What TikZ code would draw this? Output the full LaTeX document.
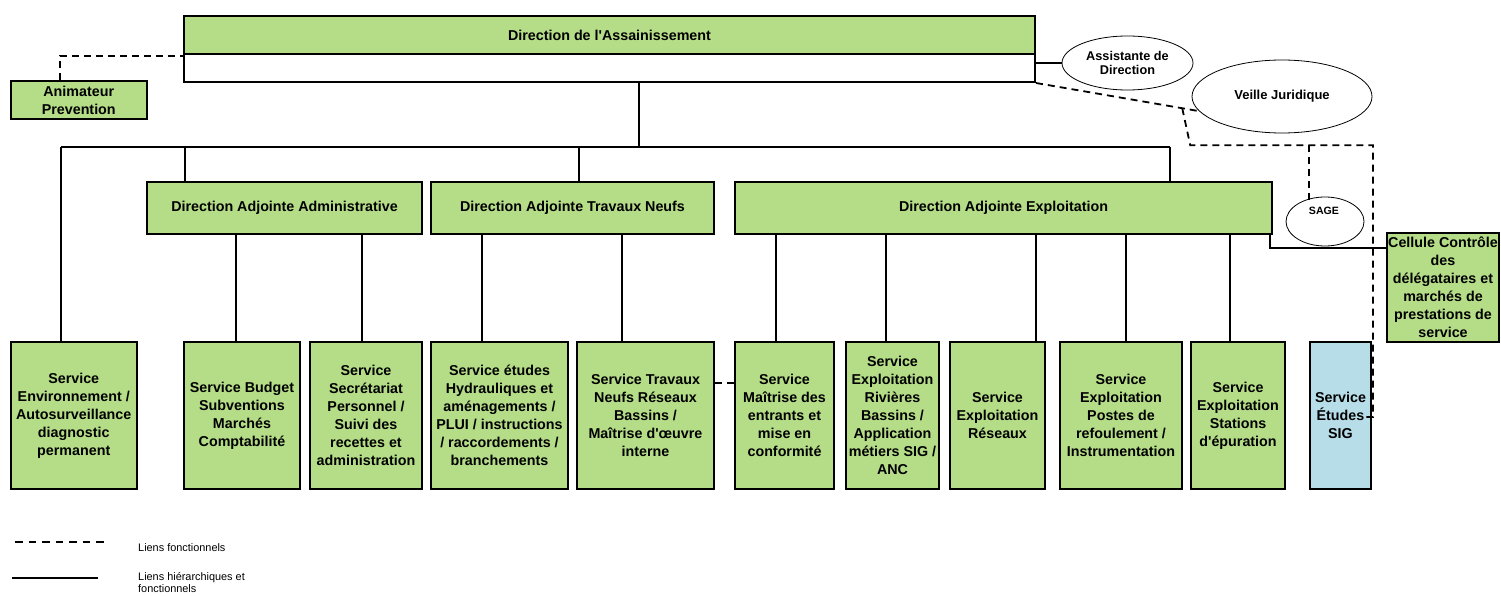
\documentclass[tikz,border=0pt]{standalone}
\usepackage{fontspec}
\setmainfont{Liberation Sans}
\usepackage{tikz}
\usetikzlibrary{shapes.geometric}
\definecolor{vert}{RGB}{181,221,135}
\definecolor{bleu}{RGB}{183,222,232}

\begin{document}
\begin{tikzpicture}[x=1pt,y=-1pt]
	\tikzstyle{unit} = [draw,line width=2pt,fill=vert,align=center,inner sep=0,font=\fontsize{14.3}{18}\selectfont\bfseries];
	\tikzstyle{service} = [unit,minimum height=147];
	\tikzstyle{adjointe} = [unit,minimum height=52];
	\tikzstyle{bulle} = [draw,ellipse,line width=0.8pt,inner sep=0,align=center,font=\fontsize{12.7}{14.5}\selectfont\bfseries];
	\tikzstyle{hier} = [line width=1.3pt];
	\tikzstyle{func} = [line width=1.8pt,dash pattern=on 7pt off 5pt];
	\tikzstyle{legende} = [inner sep=0,align=left,font=\fontsize{10.9}{12.5}\selectfont];
	\useasboundingbox (0,0) rectangle (1501,596);
	\node at (609.5,35) (dir) [unit,minimum width=851,minimum height=38] {Direction de l\textquotesingle Assainissement};
	\node at (609.5,68) (dir_bas) [unit,fill=white,minimum width=851,minimum height=28] {};
	\node at (78.75,100) (anim) [unit,minimum width=136.5,minimum height=38] {Animateur\\Prevention};
	\node at (1127.5,63) (assist) [bulle,minimum width=131,minimum height=54] {Assistante de\\Direction};
	\node at (1282,96.5) (veille) [bulle,minimum width=180,minimum height=73,font=\fontsize{13}{15}\selectfont\bfseries] {Veille Juridique};
	\node at (1325,221.5) (sage) [bulle,minimum width=78,minimum height=49] {};
	\node at (1324,211) (sage_txt) [inner sep=0,font=\fontsize{10.6}{12}\selectfont\bfseries] {SAGE};
	\node at (284.5,208) (daa) [adjointe,minimum width=275] {Direction Adjointe Administrative};
	\node at (572.5,208) (dat) [adjointe,minimum width=283] {Direction Adjointe Travaux Neufs};
	\node at (1003.5,208) (dae) [adjointe,minimum width=537] {Direction Adjointe Exploitation};
	\node at (1443,287.5) (cellule) [unit,minimum width=112,minimum height=109] {Cellule Contrôle\\des\\délégataires et\\marchés de\\prestations de\\service};
	\node at (73.75,415.5) (env) [service,minimum width=126.5] {Service\\Environnement /\\Autosurveillance\\diagnostic\\permanent};
	\node at (242,415.5) (budget) [service,minimum width=116] {Service Budget\\Subventions\\Marchés\\Comptabilité};
	\node at (366,415.5) (secretariat) [service,minimum width=112] {Service\\Secrétariat\\Personnel /\\Suivi des\\recettes et\\administration};
	\node at (499.5,415.5) (etudes) [service,minimum width=137] {Service études\\Hydrauliques et\\aménagements /\\PLUI / instructions\\/ raccordements /\\branchements};
	\node at (645.5,415.5) (travaux) [service,minimum width=137] {Service Travaux\\Neufs Réseaux\\Bassins /\\Maîtrise d\textquotesingle œuvre\\interne};
	\node at (784.5,415.5) (maitrise) [service,minimum width=99] {Service\\Maîtrise des\\entrants et\\mise en\\conformité};
	\node at (892.5,415.5) (rivieres) [service,minimum width=93] {Service\\Exploitation\\Rivières\\Bassins /\\Application\\métiers SIG /\\ANC};
	\node at (997.5,415.5) (reseaux) [service,minimum width=95] {Service\\Exploitation\\Réseaux};
	\node at (1121,415.5) (postes) [service,minimum width=122] {Service\\Exploitation\\Postes de\\refoulement /\\Instrumentation};
	\node at (1238,415.5) (stations) [service,minimum width=94] {Service\\Exploitation\\Stations\\d\textquotesingle épuration};
	\node at (1340.5,415.5) (sig) [service,fill=bleu,minimum width=61] {Service\\Études\\SIG};
	\path (dir_bas.south) ++(29.5,0) coordinate (dir_out);
	\path (dir_out) ++(0,64) coordinate (bus);
	\path (env.north) ++(-12.75,0) coordinate (env_in);
	\path (daa.north) ++(-99.5,0) coordinate (daa_in);
	\path (dat.north) ++(6.5,0) coordinate (dat_in);
	\path (dae.north) ++(166.5,0) coordinate (dae_in);
	\draw[hier] (dir_out) -- (bus);
	\draw[hier] (env_in |- bus) -- (dae_in |- bus);
	\draw[hier] (env_in |- bus) -- (env_in);
	\draw[hier] (daa_in |- bus) -- (daa_in);
	\draw[hier] (dat_in |- bus) -- (dat_in);
	\draw[hier] (dae_in |- bus) -- (dae_in);
	\path (budget.north) ++(-6,0) coordinate (budget_in);
	\path (secretariat.north) ++(-4,0) coordinate (secretariat_in);
	\path (etudes.north) ++(-17.5,0) coordinate (etudes_in);
	\path (travaux.north) ++(-23.5,0) coordinate (travaux_in);
	\path (maitrise.north) ++(-8.5,0) coordinate (maitrise_in);
	\path (rivieres.north) ++(-6.5,0) coordinate (rivieres_in);
	\path (reseaux.north) ++(38.5,0) coordinate (reseaux_in);
	\path (postes.north) ++(5,0) coordinate (postes_in);
	\path (stations.north) ++(-8,0) coordinate (stations_in);
	\draw[hier] (daa.south -| budget_in) -- (budget_in);
	\draw[hier] (daa.south -| secretariat_in) -- (secretariat_in);
	\draw[hier] (dat.south -| etudes_in) -- (etudes_in);
	\draw[hier] (dat.south -| travaux_in) -- (travaux_in);
	\draw[hier] (dae.south -| maitrise_in) -- (maitrise_in);
	\draw[hier] (dae.south -| rivieres_in) -- (rivieres_in);
	\draw[hier] (dae.south -| reseaux_in) -- (reseaux_in);
	\draw[hier] (dae.south -| postes_in) -- (postes_in);
	\draw[hier] (dae.south -| stations_in) -- (stations_in);
	\path (dae.south east) ++(-3,0) coordinate (dae_out);
	\path (cellule.north west) ++(0,16) coordinate (cellule_in);
	\draw[hier] (dae_out) |- (cellule_in);
	\draw[hier] (dir_bas.east |- assist.west) -- (assist.west);
	\path (anim.north) ++(-18.75,0) coordinate (anim_in);
	\draw[func] (anim_in) |- ([yshift=-3pt]dir_bas.north west);
	\path (dir_bas.south east) -- (veille.190) coordinate[pos=0.897] (veille_br);
	\draw[func] (dir_bas.south east) -- (veille.190);
	\path (veille_br) ++(8,37) coordinate (func_bus);
	\path (sig.east) ++(1,1.5) coordinate (sig_in);
	\draw[func] (veille_br) -- (func_bus) -| (sig_in) -- ++(-8,0);
	\path (sage.north) ++(-16,4) coordinate (sage_in);
	\draw[func] (sage_in |- func_bus) -- (sage_in);
	\draw[func] ([yshift=32.5pt]travaux.east) -- ([yshift=32.5pt]maitrise.west);
	\coordinate (leg_f1) at (15,542);
	\coordinate (leg_f2) at (107,542);
	\coordinate (leg_h1) at (12,578);
	\coordinate (leg_h2) at (98,578);
	\draw[func,line width=2.4pt,dash pattern=on 7.5pt off 6pt] (leg_f1) -- (leg_f2);
	\draw[line width=2.2pt] (leg_h1) -- (leg_h2);
	\node at (138,548) (leg_ftxt) [legende,anchor=west] {Liens fonctionnels};
	\node at (138,572) (leg_htxt) [legende,anchor=north west] {Liens hiérarchiques et\\fonctionnels};
\end{tikzpicture}
\end{document}
